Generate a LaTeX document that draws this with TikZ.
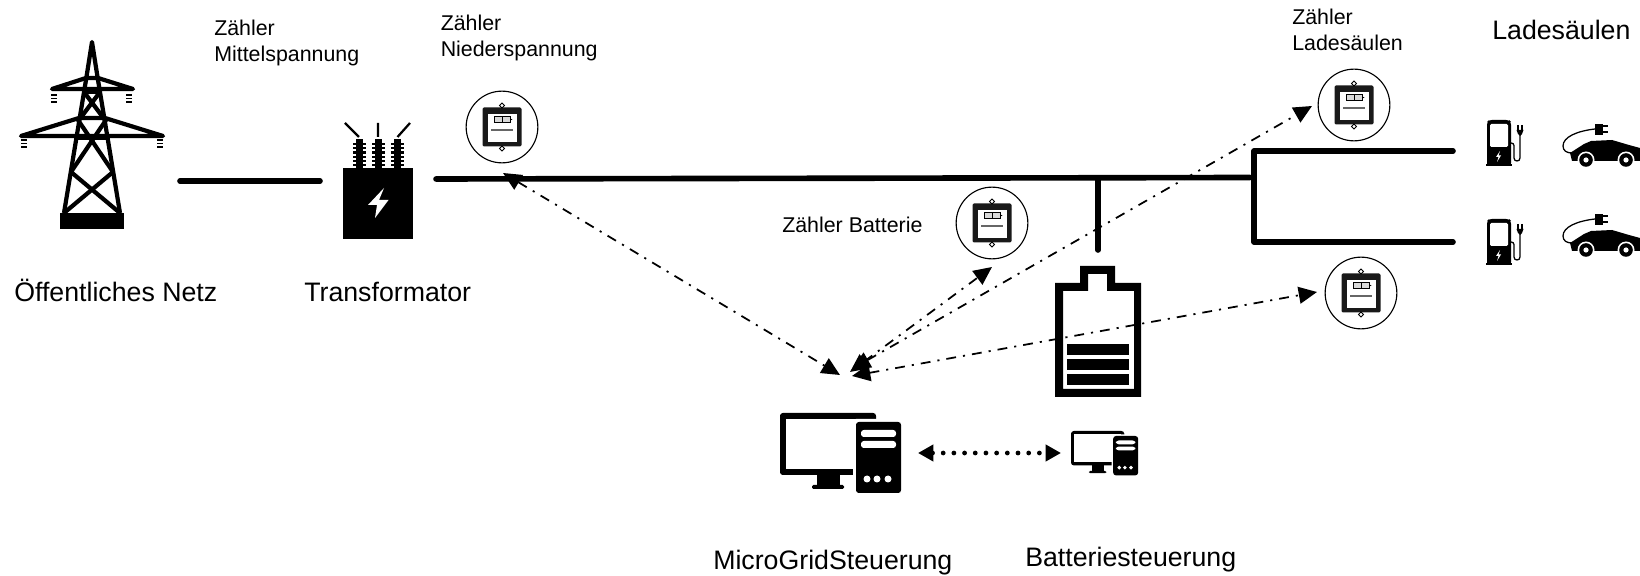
\documentclass[tikz,border=0pt]{standalone}
\usepackage{fontspec}
\setmainfont{Liberation Sans}
\usetikzlibrary{arrows.meta}

\tikzset{
    biglabel/.style={anchor=base west, inner sep=0pt, font=\fontsize{19}{22}\selectfont},
    smalllabel/.style={anchor=north west, inner sep=0pt, align=left, font=\fontsize{15.2}{18.4}\selectfont},
    powerline/.style={line width=4pt, line cap=round, line join=round},
    signalline/.style={line width=1.25pt, dash pattern=on 7pt off 5pt on 1.5pt off 5pt, {Triangle[length=13pt,width=12pt]}-{Triangle[length=13pt,width=12pt]}},
    buslink/.style={line width=3.4pt, line cap=round, dash pattern=on 0pt off 7.6pt, {Triangle[length=11pt,width=11.5pt]}-{Triangle[length=11pt,width=11.5pt]}},
    meterring/.style={circle, draw, line width=0.8pt, minimum size=51pt, inner sep=0pt},
    pics/meter/.style={code={
        \fill[black!90, rounded corners=1pt] (-19.5,-19.5) rectangle (19.5,19.5);
        \fill[white] (-14.5,-13) rectangle (14.5,15);
        \draw[line width=0.5pt, fill=black!15] (-8,-10.5) rectangle (8,-4.5);
        \draw[line width=0.5pt] (0,-10.5) -- (0,-4.5);
        \fill (8,-8.5) -- (10.5,-7.5) -- (8,-6.5) -- cycle;
        \draw[black!60, line width=0.8pt] (-11,3) -- (11,3);
        \draw[line width=0.6pt, fill=white] (0,-24) -- (2.5,-21.5) -- (0,-19) -- (-2.5,-21.5) -- cycle;
        \draw[line width=0.6pt, fill=white] (0,24) -- (2.5,21.5) -- (0,19) -- (-2.5,21.5) -- cycle;
    }},
    pics/pump/.style={code={
        \fill[rounded corners=2pt] (1,46) -- (1,2) -- (3,0) -- (23,0) -- (25,2) -- (25,46) -- cycle;
        \fill (0,44) rectangle (26,46);
        \fill[white, rounded corners=1pt] (4,4) rectangle (22,27);
        \fill[white] (14,31) -- (10,37) -- (12.5,37) -- (11,42) -- (15,35.5) -- (12.5,35.5) -- cycle;
        \draw[line width=0.9pt] (25,23) .. controls (29,23) and (28,27) .. (28,32) -- (28,38)
            .. controls (28,42) and (34,42) .. (34,38) -- (34,15);
        \fill (30.5,10) -- (37.5,10) -- (36,14) -- (34,16) -- (32,14) -- cycle;
        \draw[line width=0.9pt] (32,5) -- (32,10) (36,5) -- (36,10);
    }},
    pics/evcar/.style={code={
        \draw[line width=0.9pt] (32,6) .. controls (14,8) and (0,14) .. (0,23)
            .. controls (0,28) and (4,30) .. (9,30);
        \fill (32,1) rectangle (40,12);
        \draw[line width=1.3pt] (40,3) -- (45,3) (40,9) -- (45,9);
        \fill (7,30) -- (21,21) -- (28,18) -- (49,17) -- (66,22) -- (77,25) -- (92,28) -- (92,38) -- (9,38) -- cycle;
        \foreach \w in {23,63} {
            \fill[white] (\w,37) circle (8.5);
            \fill (\w,37) circle (6.8);
            \fill[white] (\w,37) circle (2.6);
        }
    }},
    pics/pcset/.style={code={
        \fill[rounded corners=2pt] (0,0) rectangle (96,62);
        \fill[white] (6,6) rectangle (90,56);
        \fill (37,62) rectangle (60,72);
        \fill[rounded corners=1pt] (32,72) rectangle (64,76);
        \fill[white, rounded corners=2pt] (73,6) rectangle (124,83);
        \fill[rounded corners=2pt] (76,9) rectangle (121,80);
        \fill[white, rounded corners=2pt] (81,17) rectangle (116,24);
        \fill[white, rounded corners=2pt] (81,28) rectangle (116,35);
        \foreach \d in {87,97,108} {
            \fill[white] (\d,66) circle (3.5);
        }
    }},
}

\begin{document}
\begin{tikzpicture}[x=0.025cm, y=-0.025cm]

    % the frame
    \path[use as bounding box, clip] (0,0) rectangle (1640,576);

    % the pylon
    \begin{scope}[line width=3pt, line join=round]
        \draw (64,213) -- (86,80) -- (92,42) -- (98,80) -- (120,213);
        \draw (52,89) -- (86,78) -- (98,78) -- (133,89) -- cycle;
        \draw (21,136) -- (79,118) -- (105,118) -- (163,136) -- cycle;
        \draw (84,92) -- (100,92);
        \draw (84,92) -- (105,120) (100,92) -- (79,120);
        \draw (76,138) -- (108,138);
        \draw (78,120) -- (113,172) -- (64,213);
        \draw (106,120) -- (71,172) -- (120,213);
    \end{scope}
    \fill (60,213) rectangle (124,229);
    \foreach \i/\j in {54/95, 129/95, 24/140, 160/140} {
        \foreach \k in {0,3.5,7} {
            \draw[line width=1pt] ({\i-3}, {\j+\k}) -- ({\i+3}, {\j+\k});
        }
    }

    % the transformer
    \node[fill=black, inner sep=0pt, minimum width=49.6pt, minimum height=50.3pt] (trafo) at (378,203.5) {};
    \fill[white] (384,188) -- (368,205) -- (377,205) -- (375,218) -- (388.5,200) -- (379,200) -- cycle;
    \foreach \i in {359,378,397.5} {
        \foreach \j in {0,...,5} {
            \fill ({\i-6.5}, {143+\j*4.2}) rectangle ({\i+6.5}, {145.2+\j*4.2});
        }
        \fill ({\i-3.5}, 139) rectangle ({\i+3.5}, 168);
    }
    \draw[line width=1.6pt] (345,123) -- (359,137) (378,123) -- (378,137) (410,123) -- (397.5,137);

    % the power lines
    \coordinate (netEnd) at (180,181);
    \coordinate (trafoIn) at (320,181);
    \coordinate (busStart) at (436,179);
    \coordinate (busEnd) at (1250,177.5);
    \coordinate (busTap) at (1098,178);
    \coordinate (batTap) at (1098,250);
    \coordinate (branchTop) at (1254,151);
    \coordinate (branchLow) at (1254,242);
    \coordinate (pumpOne) at (1453,151);
    \coordinate (pumpTwo) at (1453,242);
    \draw[powerline] (netEnd) -- (trafoIn);
    \draw[powerline] (busStart) -- (busEnd);
    \draw[powerline] (busTap) -- (batTap);
    \draw[powerline] (pumpOne) -- (branchTop) -- (branchLow) -- (pumpTwo);

    % the meters
    \foreach \name/\i/\j in {meterNS/502/127, meterBat/992/223, meterLS/1354/105, meterLSb/1361/293} {
        \node[meterring] (\name) at (\i,\j) {};
        \pic at (\name) {meter};
    }

    % the battery
    \fill[even odd rule] (1055,283) -- (1080,283) -- (1080,266) -- (1115,266) -- (1115,283)
        -- (1141,283) -- (1141,397) -- (1055,397) -- cycle
        (1063,291) -- (1088,291) -- (1088,274) -- (1107,274) -- (1107,291)
        -- (1134,291) -- (1134,389) -- (1063,389) -- cycle;
    \foreach \j in {344,359,374} {
        \fill (1067,\j) rectangle (1129,{\j+11.5});
    }

    % the control units
    \pic at (780,413) {pcset};
    \pic[scale=0.555] at (1071,431) {pcset};
    \coordinate (pcLeft) at (918,453);
    \coordinate (pcRight) at (1061,453);
    \draw[buslink] (pcLeft) -- (pcRight);

    % the charging points
    \foreach \j/\k in {120/123, 219/213} {
        \pic at (1486,\j) {pump};
        \pic at (1563,\k) {evcar};
    }

    % the signals
    \coordinate (gridHub) at (840,375);
    \coordinate (hubBat) at (850,372);
    \coordinate (hubLS) at (852,369);
    \coordinate (hubLSb) at (852,376);
    \coordinate (tapNS) at (503,173);
    \coordinate (tipBat) at (992,267);
    \coordinate (tipLS) at (1312,106);
    \coordinate (tipLSb) at (1317,292);
    \draw[signalline] (tapNS) -- (gridHub);
    \draw[signalline] (hubBat) -- (tipBat);
    \draw[signalline] (hubLS) -- (tipLS);
    \draw[signalline] (hubLSb) -- (tipLSb);

    % the labels
    \node[biglabel] (netLabel) at (14,302) {Öffentliches Netz};
    \node[biglabel] (trafoLabel) at (304,302) {Transformator};
    \node[biglabel] (gridLabel) at (713,570) {MicroGridSteuerung};
    \node[biglabel] (batLabel) at (1025,567) {Batteriesteuerung};
    \node[biglabel] (pointLabel) at (1492,40) {Ladesäulen};
    \node[smalllabel] (mvLabel) at (214,20) {Zähler\\Mittelspannung};
    \node[smalllabel] (lvLabel) at (440.5,15) {Zähler\\Niederspannung};
    \node[smalllabel] (lsLabel) at (1292,9) {Zähler\\Ladesäulen};
    \node[smalllabel] (meterLabel) at (782,217) {Zähler Batterie};

\end{tikzpicture}
\end{document}
